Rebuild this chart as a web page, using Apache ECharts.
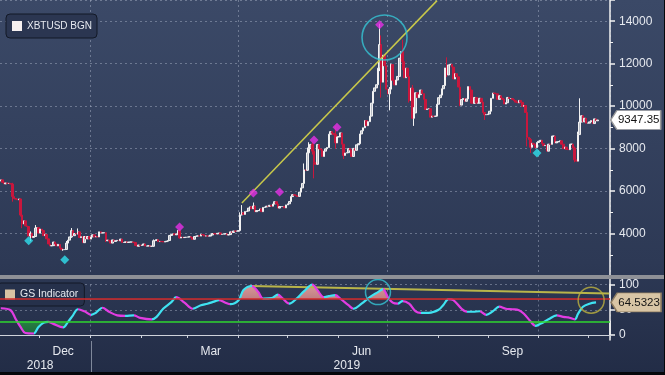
<!DOCTYPE html>
<html><head><meta charset="utf-8">
<script src="https://cdn.jsdelivr.net/npm/echarts@6/dist/echarts.min.js"></script>
<style>html,body{margin:0;padding:0;background:#2e3a56;}#c{width:665px;height:375px;}</style>
</head><body><div id="c"></div>
<script>
const FONT = "'Liberation Sans', Arial, sans-serif";

// ---- categories: one per day, 2018-11-07 .. 2019-11-13
const categories = [];
(function(){ const d0 = Date.UTC(2018,10,7); for (let i=0;i<372;i++){ categories.push(new Date(d0+i*86400000).toISOString().slice(0,10)); } })();

// ---- XBTUSD daily closes (24/7 market: each open = prior close)
const firstOpen = 6470;
const closeNov18 = [6530,6410,6340,6380,6360,6360,6330,5740,5650,5620,5590,5630,4870,4450,4600,4360,4330,3880,4010,3820,3860,4260,4280,4020];
const closeDec18 = [4210,4140,3900,3960,3750,3510,3420,3430,3600,3500,3420,3490,3310,3240,3240,3250,3550,3690,3840,4140,3900,4000,3980,4080,3810,3850,3570,3860,3750,3860,3740];
const closeJan19 = [3840,3940,3840,3860,3840,4080,4030,4030,4040,3660,3690,3660,3550,3700,3630,3660,3680,3660,3740,3580,3580,3610,3580,3600,3600,3600,3580,3440,3400,3460,3440];
const closeFeb19 = [3460,3510,3410,3410,3430,3400,3400,3660,3670,3710,3620,3630,3620,3600,3620,3640,3670,3910,3950,3990,3940,3980,4150,3790,3830,3810,3820,3830];
const closeMar19 = [3840,3850,3810,3730,3860,3880,3890,3880,3960,3940,3880,3890,3880,3880,3930,4000,3990,3980,4010,4030,3960,3970,3990,3990,3930,3950,4080,4050,4120,4110,4110];
const closeApr19 = [4140,4880,4980,4900,5040,5060,5200,5260,5170,5300,5030,5080,5080,5160,5030,5230,5250,5290,5280,5330,5290,5390,5500,5390,5200,5270,5270,5270,5210,5350];
const closeMay19 = [5400,5510,5740,5830,5800,5770,5750,5950,6150,6360,7000,6980,7800,8000,8200,7880,7350,7260,8190,7990,7950,7630,7880,7990,8050,8680,8800,8720,8660,8270,8550];
const closeJun19 = [8560,8740,8210,7680,7790,7810,8000,7930,7630,8010,7920,8180,8230,8690,8840,8980,9320,9080,9270,9530,10140,10700,10860,11010,11790,12900,11130,12400,11900,10800];
const closeJul19 = [10580,10800,11960,11220,11000,11230,11400,12260,12570,12100,11340,11790,11390,10260,10850,9430,9680,10630,10400,10540,10760,10590,10320,9840,9870,9880,9480,9530,9520,9530,10090];
const closeAug19 = [10400,10520,10820,10970,11800,11470,11940,11970,11840,11280,11530,11380,10900,10050,10310,10360,10230,10340,10920,10760,10140,10130,10410,10140,10140,10370,10190,9700,9600,9600,9630];
const closeSep19 = [9760,10370,10620,10590,10580,10320,10490,10380,10320,10100,10160,10410,10360,10360,10310,10260,10190,10160,10270,10180,9990,10030,9700,8530,8430,8060,8250,8200,8050,8290];
const closeOct19 = [8340,8390,8230,8140,8150,7880,8210,8200,8590,8590,8270,8320,8330,8370,8210,8000,8070,7960,7950,8210,8210,8030,7470,7410,8660,9250,9550,9260,9430,9200,9200];
const closeNov19 = [9260,9320,9180,9400,9310,9347.35];

// visible wicks [high, low]
const wickDates = ['2018-11-14','2018-11-19','2018-11-20','2018-11-25','2018-11-28','2018-12-15','2018-12-17','2018-12-20','2018-12-24','2019-01-10','2019-02-08','2019-02-24','2019-04-02','2019-04-03','2019-04-10','2019-05-11','2019-05-13','2019-05-14','2019-05-16','2019-05-17','2019-05-30','2019-06-04','2019-06-26','2019-06-27','2019-07-02','2019-07-03','2019-07-10','2019-07-14','2019-07-16','2019-07-17','2019-08-06','2019-08-14','2019-08-29','2019-09-24','2019-09-26','2019-10-23','2019-10-25','2019-10-26'];
const wickHigh = [6390,5650,4950,4100,4400,3270,3650,4260,4240,4060,3720,4210,5000,5340,5460,7300,8050,8300,8300,7950,9070,8210,13880,13330,10900,12000,13130,11450,11000,9950,12300,10900,9700,9800,8500,8100,8800,10370];
const wickLow  = [5500,4800,4250,3640,3840,3190,3240,3800,3960,3600,3380,3760,4140,4850,5180,6350,6950,7600,7720,6600,8000,7510,11650,10400,9800,10800,11700,10170,9400,9070,11370,10000,9350,8100,7800,7360,7450,8660];

// signal markers on price
const magentaDates = ['2019-02-24','2019-04-10','2019-04-26','2019-05-17','2019-05-31','2019-06-26'];
const magentaValues = [4310,5910,5960,8400,9010,13840];
const cyanDates = ['2018-11-24','2018-12-16','2019-09-30'];
const cyanValues = [3657,2765,7790];
const priceTrendDates = ['2019-04-03','2019-07-31'];
const priceTrendValues = [5440,14970];
const priceCircleDate = ['2019-06-29'];
const priceCircleValue = [13235];

// GS Indicator
const gsDates = ['2018-11-07','2018-11-13','2018-11-16','2018-11-19','2018-11-22','2018-11-27','2018-11-30','2018-12-03','2018-12-06','2018-12-09','2018-12-15','2018-12-18','2018-12-21','2018-12-24','2018-12-28','2019-01-01','2019-01-04','2019-01-08','2019-01-12','2019-01-17','2019-01-22','2019-01-27','2019-01-31','2019-02-07','2019-02-10','2019-02-14','2019-02-19','2019-02-22','2019-02-27','2019-03-04','2019-03-09','2019-03-13','2019-03-17','2019-03-20','2019-03-24','2019-03-27','2019-04-01','2019-04-04','2019-04-09','2019-04-13','2019-04-16','2019-04-21','2019-04-25','2019-04-28','2019-05-02','2019-05-06','2019-05-11','2019-05-16','2019-05-19','2019-05-23','2019-05-26','2019-05-30','2019-06-02','2019-06-07','2019-06-10','2019-06-15','2019-06-20','2019-06-25','2019-06-28','2019-07-01','2019-07-04','2019-07-07','2019-07-10','2019-07-14','2019-07-18','2019-07-21','2019-07-26','2019-08-01','2019-08-04','2019-08-07','2019-08-10','2019-08-15','2019-08-18','2019-08-22','2019-08-26','2019-08-30','2019-09-03','2019-09-07','2019-09-11','2019-09-15','2019-09-19','2019-09-22','2019-09-26','2019-09-29','2019-10-02','2019-10-07','2019-10-12','2019-10-16','2019-10-19','2019-10-23','2019-10-25','2019-10-28','2019-11-01','2019-11-05'];
const gsValues = [53,49,32,16,4,3,16,24,26,22,15,26,39,51,47,40,44,54,46,39,38,39,34,31,36,52,65,75,64,52,59,62,66,69,64,61,69,89,97,85,72,73,80,72,62,71,87,100,89,75,77,79,72,59,52,62,75,85,91,75,64,62,67,62,47,44,44,50,60,71,69,52,46,46,47,40,47,56,52,51,49,42,27,18,22,31,39,36,35,31,42,56,62,64.5323];
const gsUpper = 71, gsLower = 27;
const gsTrendDates = ['2019-04-08','2019-11-13'];
const gsTrendValues = [97,82];
const gsCircleDates = ['2019-06-25','2019-11-02'];
const gsCircleValues = [85,69];

// axis labels
const quarterStarts = ['2019-01-01','2019-04-01','2019-07-01','2019-10-01'];
const monthLabelDates = ['2018-12-15','2019-03-15','2019-06-15','2019-09-15'];
const monthLabelTexts = ['Dec','Mar','Jun','Sep'];
const yearLabelDates = ['2018-12-01','2019-06-06'];
const yearLabelTexts = ['2018','2019'];
const yearStarts = ['2019-01-01'];

// ---- build
const closes = [].concat(closeNov18,closeDec18,closeJan19,closeFeb19,closeMar19,closeApr19,closeMay19,closeJun19,closeJul19,closeAug19,closeSep19,closeOct19,closeNov19);
const candleData = closes.map((c,i)=>{
  const o = i===0 ? firstOpen : closes[i-1];
  const w = wickDates.indexOf(categories[i]);
  const hi = w>=0 ? Math.max(wickHigh[w],o,c) : Math.max(o,c);
  const lo = w>=0 ? Math.min(wickLow[w],o,c) : Math.min(o,c);
  return [o,c,lo,hi];
});
const zip = (a,b)=>a.map((d,i)=>[d,b[i]]);
const gsData = zip(gsDates, gsValues);
const CYAN = '#3fe3f2', MAGENTA = '#e23ce2';
const gsIdx = gsDates.map(d=>categories.indexOf(d));
const pieces = [];
for (let i=0;i<gsIdx.length-1;i++) pieces.push({gte:gsIdx[i], lte:gsIdx[i+1], color: gsValues[i+1]>=gsValues[i] ? CYAN : MAGENTA});

const isIn = arr => (idx, v) => arr.indexOf(v) >= 0;
const isMonthStart = (idx, v) => v.slice(8) === '01';
const GRIDC = 'rgba(175,185,205,0.45)';
const TXT = '#e6e9ef';
const tagPath = 'path://M0,9L7,0L57,0L57,18L7,18Z';
const plain = v => String(v);

const baseX = {type:'category', data:categories, boundaryGap:true};
const hiddenX = g => Object.assign({}, baseX, {gridIndex:g, axisLine:{show:false}, axisTick:{show:false}, axisLabel:{show:false}, splitLine:{show:false}});

const chart = echarts.init(document.getElementById('c'), null, {renderer:'canvas'});
chart.setOption({
  animation:false,
  backgroundColor: new echarts.graphic.LinearGradient(0,0,0,1,[{offset:0,color:'#3b4967'},{offset:0.7,color:'#2d3955'},{offset:1,color:'#222c46'}]),
  grid:[
    {left:0, right:55, top:0, height:276, containLabel:false, outerBoundsMode:'none'},
    {left:0, right:55, top:284.5, height:50.5, containLabel:false, outerBoundsMode:'none'},
    {left:0, right:55, top:279.45, height:19.695, containLabel:false, outerBoundsMode:'none'},
    {left:0, right:55, top:321.365, height:18.685, containLabel:false, outerBoundsMode:'none'}
  ],
  legend:[
    {left:6, top:14, data:[{name:'XBTUSD BGN', icon:'rect', itemStyle:{color:'#f6f0f0', borderWidth:0}}], selectedMode:false,
     itemWidth:10, itemHeight:10, padding:[7,5,7,6], backgroundColor:'#2b3651', borderColor:'#131927', borderWidth:1, borderRadius:4,
     textStyle:{color:TXT, fontSize:10, fontFamily:FONT}},
    {left:-3, top:283, data:[{name:'GS Indicator', icon:'rect', itemStyle:{color:'#d8c3a3', borderWidth:0}}], selectedMode:false,
     itemWidth:10, itemHeight:10, padding:[6,6,6,8], backgroundColor:'#26314b', borderColor:'#131927', borderWidth:1, borderRadius:4,
     textStyle:{color:TXT, fontSize:10.5, fontFamily:FONT}}
  ],
  visualMap:{type:'piecewise', show:false, seriesIndex:5, dimension:0, pieces:pieces, outOfRange:{color:MAGENTA}},
  xAxis:[
    Object.assign({}, baseX, {gridIndex:0, axisLine:{show:false}, axisTick:{show:false}, axisLabel:{show:false},
      splitLine:{show:true, interval:isIn(quarterStarts), lineStyle:{color:GRIDC, type:[2,3]}}}),
    Object.assign({}, baseX, {gridIndex:1, position:'bottom', offset:6,
      axisLine:{show:true, lineStyle:{color:'#cfd3db', width:1}},
      axisTick:{show:true, interval:isMonthStart, length:3, lineStyle:{color:'#cfd3db'}},
      axisLabel:{show:true, interval:isIn(monthLabelDates), formatter:v=>monthLabelTexts[monthLabelDates.indexOf(v)]||'', color:TXT, fontSize:12, fontFamily:FONT, margin:5},
      splitLine:{show:true, interval:isIn(quarterStarts), lineStyle:{color:GRIDC, type:[2,3]}}}),
    Object.assign({}, baseX, {gridIndex:1, position:'bottom', offset:6,
      axisLine:{show:false},
      axisTick:{show:true, alignWithLabel:true, interval:isIn(yearStarts), length:34, lineStyle:{color:'#7f889b'}},
      axisLabel:{show:true, interval:isIn(yearLabelDates), formatter:v=>yearLabelTexts[yearLabelDates.indexOf(v)]||'', color:TXT, fontSize:12, fontFamily:FONT, margin:19},
      splitLine:{show:false}}),
    hiddenX(2),
    hiddenX(3)
  ],
  yAxis:[
    {type:'value', gridIndex:0, position:'right', min:2000, max:15000, interval:2000,
     axisLine:{show:true, lineStyle:{color:'#f2f2f2', width:1.5}},
     axisTick:{show:true, length:5, lineStyle:{color:'#f2f2f2', width:1.5}},
     minorTick:{show:true, splitNumber:2, length:3, lineStyle:{color:'#f2f2f2'}},
     axisLabel:{color:TXT, fontSize:12, fontFamily:FONT, margin:9, showMinLabel:false, showMaxLabel:false, formatter:plain},
     splitLine:{show:true, lineStyle:{color:GRIDC, type:[2,3]}}},
    {type:'value', gridIndex:1, position:'right', min:0, max:100, interval:50,
     axisLine:{show:true, lineStyle:{color:'#f2f2f2', width:1.5}},
     axisTick:{show:true, length:5, lineStyle:{color:'#f2f2f2', width:1.5}},
     axisLabel:{color:TXT, fontSize:12, fontFamily:FONT, margin:9, formatter:plain},
     splitLine:{show:true, lineStyle:{color:GRIDC, type:[2,3]}}},
    {type:'value', gridIndex:2, position:'right', min:gsUpper, max:110,
     axisLine:{show:true, lineStyle:{color:'#f2f2f2', width:1.5}}, axisTick:{show:false}, axisLabel:{show:false}, splitLine:{show:false}},
    {type:'value', gridIndex:3, position:'right', min:-10, max:gsLower,
     axisLine:{show:true, lineStyle:{color:'#f2f2f2', width:1.5}}, axisTick:{show:false}, axisLabel:{show:false}, splitLine:{show:false}}
  ],
  graphic:[
    {type:'rect', shape:{x:0,y:275,width:665,height:4}, style:{fill:'#8e9096'}, z:100},
    {type:'rect', shape:{x:0,y:372,width:665,height:3}, style:{fill:'#05070b'}, z:100},
    {type:'rect', shape:{x:664,y:0,width:1,height:375}, style:{fill:'#05070b'}, z:100}
  ],
  series:[
    {name:'XBTUSD BGN', type:'candlestick', xAxisIndex:0, yAxisIndex:0, data:candleData, barWidth:2,
     itemStyle:{color:'#b9bdc6', color0:'#c8173d', borderColor:'#f2f2f2', borderColor0:'#c8173d', borderWidth:1},
     z:3,
     markPoint:{symbol:tagPath, symbolSize:[50,19], symbolOffset:[38,0], silent:true,
       itemStyle:{color:'#ffffff', borderColor:'#9a9a9a', borderWidth:1},
       label:{show:true, position:'inside', offset:[3,0], color:'#111111', fontSize:11.5, fontFamily:FONT, formatter:p=>String(p.value)},
       data:[{coord:[categories[closes.length-1], closes[closes.length-1]], value:closes[closes.length-1]}]}},
    {type:'scatter', xAxisIndex:0, yAxisIndex:0, data:zip(magentaDates,magentaValues), symbol:'diamond', symbolSize:9, itemStyle:{color:'#e630e6'}, z:5},
    {type:'scatter', xAxisIndex:0, yAxisIndex:0, data:zip(cyanDates,cyanValues), symbol:'diamond', symbolSize:9, itemStyle:{color:'#2fe0ee'}, z:5},
    {type:'line', xAxisIndex:0, yAxisIndex:0, data:zip(priceTrendDates,priceTrendValues), symbol:'none', lineStyle:{color:'#c8c84a', width:1.5}, z:4},
    {type:'scatter', xAxisIndex:0, yAxisIndex:0, data:zip(priceCircleDate,priceCircleValue), symbol:'circle', symbolSize:45,
     itemStyle:{color:'rgba(0,0,0,0)', borderColor:'#36c4d4', borderWidth:1.6}, z:6},
    {name:'GS Indicator', type:'line', xAxisIndex:1, yAxisIndex:1, data:gsData, smooth:0.35, symbol:'none', clip:false,
     lineStyle:{width:2.2}, z:4,
     markLine:{silent:true, symbol:['none','none'], label:{show:false},
       data:[{yAxis:gsUpper, lineStyle:{color:'#d22a2a', width:1.5, type:'solid'}},
             {yAxis:gsLower, lineStyle:{color:'#2fd42f', width:1.5, type:'solid'}}]},
     markPoint:{symbol:tagPath, symbolSize:[50,19], symbolOffset:[40,0], silent:true,
       itemStyle:{color:'#d8c5a5', borderColor:'#8d7c60', borderWidth:1},
       label:{show:true, position:'inside', offset:[3,0], color:'#151515', fontSize:11.5, fontFamily:FONT, formatter:p=>String(p.value)},
       data:[{coord:[gsDates[gsDates.length-1], gsValues[gsValues.length-1]], value:gsValues[gsValues.length-1]}]}},
    {type:'line', xAxisIndex:3, yAxisIndex:2, data:gsData, smooth:0.35, symbol:'none', lineStyle:{width:0, opacity:0}, z:2,
     areaStyle:{origin:'start', opacity:1, color:new echarts.graphic.LinearGradient(0,0,0,1,[{offset:0,color:'#d99a98'},{offset:1,color:'#7e3a52'}])}},
    {type:'line', xAxisIndex:4, yAxisIndex:3, data:gsData, smooth:0.35, symbol:'none', lineStyle:{width:0, opacity:0}, z:2,
     areaStyle:{origin:'end', opacity:1, color:new echarts.graphic.LinearGradient(0,0,0,1,[{offset:0,color:'#4dbb68'},{offset:1,color:'#1d6a3a'}])}},
    {type:'line', xAxisIndex:1, yAxisIndex:1, data:zip(gsTrendDates,gsTrendValues), symbol:'none', lineStyle:{color:'#b9b54a', width:2}, z:3},
    {type:'scatter', xAxisIndex:1, yAxisIndex:1, data:[[gsCircleDates[0],gsCircleValues[0]]], symbol:'circle', symbolSize:25,
     itemStyle:{color:'rgba(0,0,0,0)', borderColor:'#36c4d4', borderWidth:1.5}, z:6},
    {type:'scatter', xAxisIndex:1, yAxisIndex:1, data:[[gsCircleDates[1],gsCircleValues[1]]], symbol:'circle', symbolSize:26,
     itemStyle:{color:'rgba(0,0,0,0)', borderColor:'#bdb13e', borderWidth:1.5}, z:6}
  ]
});
</script></body></html>
